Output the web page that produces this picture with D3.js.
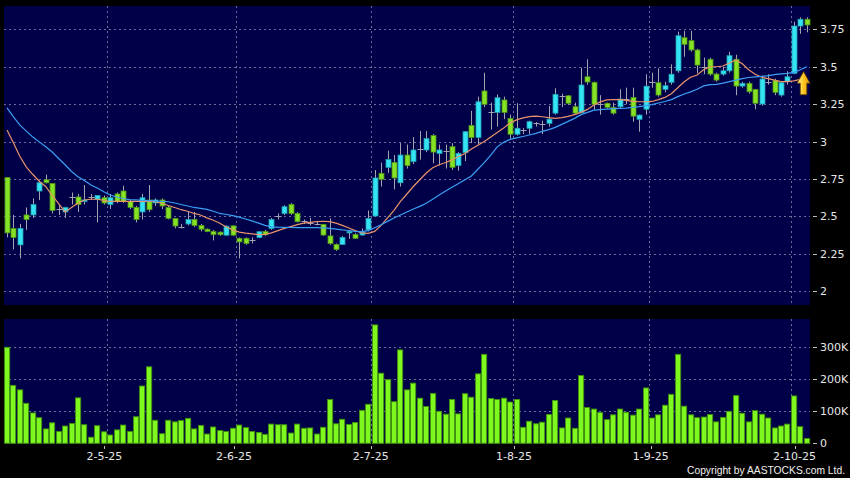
<!DOCTYPE html>
<html><head><meta charset="utf-8">
<script src="https://cdn.jsdelivr.net/npm/d3@7"></script>
<style>html,body{margin:0;padding:0;background:#000;}svg{display:block}</style>
</head><body>
<svg id="c" width="850" height="478"></svg>
<script>
// ---- data (index = trading day) ----
const openP=[2.76,2.42,2.31,2.51,2.51,2.67,2.745,2.72,2.55,2.53,
2.63,2.63,2.60,2.63,2.615,2.625,2.58,2.65,2.67,2.60,
2.56,2.53,2.61,2.59,2.61,2.56,2.487,2.43,2.45,2.48,
2.44,2.415,2.40,2.395,2.375,2.437,2.354,2.354,2.34,2.36,
2.40,2.42,2.503,2.52,2.58,2.52,2.47,2.458,2.45,2.447,
2.37,2.313,2.313,2.39,2.38,2.376,2.41,2.503,2.788,2.828,
2.86,2.725,2.91,2.866,2.95,2.944,3.04,2.92,2.937,2.966,
2.84,2.926,3.108,3.028,3.338,3.20,3.195,3.278,3.155,3.049,
3.077,3.089,3.126,3.115,3.122,3.19,3.306,3.306,3.233,3.193,
3.433,3.396,3.25,3.256,3.229,3.233,3.284,3.295,3.149,3.216,
3.40,3.393,3.349,3.396,3.473,3.694,3.674,3.612,3.50,3.55,
3.451,3.451,3.473,3.55,3.371,3.389,3.349,3.251,3.40,3.407,
3.311,3.40,3.456,3.772,3.817];
const closeP=[2.39,2.36,2.42,2.48,2.58,2.725,2.725,2.54,2.55,2.56,
2.63,2.58,2.61,2.63,2.64,2.59,2.625,2.60,2.60,2.56,
2.48,2.625,2.545,2.61,2.57,2.487,2.436,2.43,2.48,2.44,
2.415,2.40,2.378,2.378,2.435,2.375,2.33,2.32,2.34,2.398,
2.378,2.48,2.503,2.565,2.52,2.465,2.47,2.458,2.45,2.376,
2.32,2.28,2.36,2.40,2.354,2.394,2.487,2.757,2.748,2.88,
2.757,2.91,2.84,2.944,2.95,3.02,2.93,2.944,2.937,2.828,
2.92,3.066,3.028,3.266,3.249,3.20,3.293,3.195,3.049,3.089,
3.077,3.133,3.126,3.115,3.15,3.315,3.306,3.256,3.19,3.378,
3.398,3.249,3.25,3.229,3.19,3.284,3.284,3.17,3.177,3.37,
3.40,3.311,3.373,3.45,3.707,3.65,3.612,3.511,3.50,3.451,
3.411,3.473,3.574,3.371,3.389,3.333,3.256,3.418,3.40,3.329,
3.393,3.433,3.772,3.817,3.779];
const highP=[2.76,2.51,2.45,2.56,2.62,2.74,2.78,2.72,2.58,2.565,
2.66,2.65,2.71,2.65,2.64,2.64,2.65,2.66,2.705,2.61,
2.57,2.65,2.71,2.62,2.62,2.57,2.49,2.45,2.53,2.53,
2.45,2.42,2.41,2.40,2.44,2.44,2.36,2.36,2.36,2.40,
2.41,2.49,2.52,2.575,2.59,2.53,2.48,2.49,2.47,2.45,
2.487,2.32,2.37,2.41,2.39,2.42,2.54,2.81,2.86,2.94,
2.91,2.99,2.98,3.03,3.07,3.07,3.05,2.98,2.98,2.99,
2.93,3.07,3.206,3.30,3.46,3.26,3.315,3.30,3.18,3.256,
3.09,3.14,3.13,3.14,3.238,3.356,3.32,3.31,3.26,3.493,
3.55,3.40,3.31,3.26,3.26,3.35,3.36,3.36,3.18,3.45,
3.46,3.49,3.40,3.516,3.734,3.74,3.74,3.62,3.56,3.56,
3.46,3.50,3.60,3.58,3.40,3.40,3.35,3.44,3.45,3.42,
3.40,3.47,3.80,3.83,3.83];
const lowP=[2.36,2.28,2.22,2.41,2.49,2.61,2.72,2.52,2.51,2.49,
2.58,2.53,2.58,2.61,2.46,2.58,2.55,2.59,2.59,2.55,
2.46,2.48,2.53,2.57,2.55,2.48,2.42,2.42,2.44,2.43,
2.40,2.395,2.34,2.37,2.37,2.37,2.22,2.31,2.32,2.355,
2.37,2.41,2.48,2.51,2.51,2.46,2.45,2.44,2.44,2.37,
2.31,2.27,2.31,2.35,2.35,2.37,2.40,2.50,2.70,2.79,
2.68,2.70,2.82,2.85,2.88,2.93,2.855,2.84,2.82,2.81,
2.805,2.87,2.99,2.98,3.23,3.08,3.10,3.15,3.02,3.04,
3.05,3.05,3.10,3.05,3.10,3.18,3.23,3.245,3.18,3.19,
3.38,3.21,3.18,3.22,3.18,3.22,3.25,3.133,3.066,3.18,
3.36,3.30,3.33,3.38,3.46,3.567,3.60,3.456,3.45,3.44,
3.40,3.44,3.46,3.31,3.36,3.32,3.216,3.24,3.38,3.31,
3.30,3.38,3.45,3.72,3.73];
const volumeK=[300,181,167,125,95,80,45,64,37,54,
62,142,58,19,55,36,26,42,57,37,
83,179,239,72,30,72,67,71,78,45,
56,29,51,40,37,47,57,49,37,34,
28,60,58,58,32,60,47,48,29,50,
137,61,75,59,65,103,122,370,219,199,
130,292,167,188,141,115,156,100,91,137,
92,155,144,217,278,140,137,141,129,137,
50,69,61,66,90,134,48,79,47,212,
112,107,96,74,89,107,97,88,107,173,
79,89,119,153,278,116,89,80,82,90,
67,81,100,149,94,67,102,91,79,48,
54,60,148,52,15];
const maShort=[3.077,2.99,2.90,2.83,2.78,2.735,2.70,2.64,2.585,2.53,
2.56,2.59,2.61,2.615,2.615,2.607,2.60,2.60,2.60,2.60,
2.60,2.60,2.60,2.598,2.588,2.573,2.56,2.545,2.535,2.52,
2.51,2.49,2.475,2.455,2.43,2.41,2.395,2.388,2.383,2.378,
2.38,2.39,2.405,2.42,2.432,2.445,2.455,2.46,2.465,2.468,
2.465,2.455,2.44,2.423,2.405,2.39,2.387,2.40,2.44,2.49,
2.54,2.60,2.65,2.70,2.745,2.79,2.825,2.845,2.86,2.878,
2.90,2.92,2.95,2.975,3.00,3.03,3.06,3.09,3.125,3.145,
3.158,3.167,3.17,3.166,3.16,3.155,3.16,3.168,3.18,3.195,
3.215,3.245,3.265,3.278,3.28,3.28,3.275,3.268,3.266,3.266,
3.268,3.28,3.295,3.32,3.36,3.40,3.43,3.445,3.48,3.50,
3.50,3.505,3.525,3.545,3.52,3.48,3.45,3.43,3.42,3.41,
3.40,3.40,3.405,3.415,3.425];
const maLong=[3.225,3.165,3.11,3.07,3.03,2.998,2.965,2.93,2.887,2.845,
2.80,2.765,2.74,2.71,2.69,2.665,2.643,2.63,2.62,2.612,
2.61,2.607,2.605,2.603,2.60,2.598,2.59,2.58,2.57,2.56,
2.554,2.547,2.535,2.52,2.513,2.505,2.495,2.483,2.47,2.455,
2.44,2.43,2.428,2.427,2.426,2.425,2.425,2.425,2.425,2.423,
2.42,2.415,2.41,2.406,2.40,2.398,2.405,2.425,2.445,2.467,
2.49,2.51,2.53,2.55,2.567,2.588,2.615,2.643,2.67,2.695,
2.72,2.745,2.77,2.815,2.86,2.91,2.965,2.995,3.015,3.025,
3.034,3.044,3.055,3.068,3.08,3.095,3.115,3.135,3.155,3.18,
3.195,3.21,3.214,3.217,3.22,3.222,3.224,3.228,3.233,3.24,
3.247,3.258,3.268,3.28,3.30,3.318,3.332,3.35,3.372,3.38,
3.382,3.39,3.40,3.41,3.42,3.428,3.432,3.436,3.44,3.447,
3.452,3.455,3.462,3.48,3.50];
const priceTicks=[2,2.25,2.5,2.75,3,3.25,3.5,3.75];
const volTicks=[0,100000,200000,300000];
const volTickLabels=["0","100K","200K","300K"];
const dateLabels=["2-5-25","2-6-25","2-7-25","1-8-25","1-9-25","2-10-25"];
const dateGridIdx=[15.5,35.5,56.5,78.5,99.5,121.5];
const dateLabelIdx=[15.1,35.2,56.4,78.6,99.8,122.1];

// ---- drawing ----
const svg=d3.select("#c");
const N=openP.length;
const x=d3.scaleLinear().domain([-0.5,N-0.5]).range([3.8,810]);
const y=d3.scaleLinear().domain([2,3.75]).range([291.3,29.3]);
const yv=d3.scaleLinear().domain([0,300000]).range([443.3,347.3]);
const P={x0:4,x1:810,y0:6,y1:305};
const V={y0:319,y1:443.5};
const bg="#000048", gridC="#6c6c9c";
const px=v=>Math.round(v)+0.5;

svg.append("rect").attr("width",850).attr("height",478).attr("fill","#000");
svg.append("rect").attr("x",P.x0).attr("y",P.y0).attr("width",P.x1-P.x0).attr("height",P.y1-P.y0).attr("fill",bg);
svg.append("rect").attr("x",P.x0).attr("y",V.y0).attr("width",P.x1-P.x0).attr("height",V.y1-V.y0).attr("fill",bg);

const g=svg.append("g");
g.selectAll(".hg").data(priceTicks).join("line")
 .attr("x1",P.x0).attr("x2",P.x1).attr("y1",d=>px(y(d))).attr("y2",d=>px(y(d)))
 .attr("stroke",gridC).attr("stroke-dasharray","2,3");
g.selectAll(".vhg").data(volTicks.slice(1)).join("line")
 .attr("x1",P.x0).attr("x2",P.x1).attr("y1",d=>px(yv(d))).attr("y2",d=>px(yv(d)))
 .attr("stroke",gridC).attr("stroke-dasharray","2,3");
dateGridIdx.forEach(i=>{
  [[P.y0,P.y1],[V.y0,V.y1]].forEach(([a,b])=>{
    g.append("line").attr("x1",px(x(i))).attr("x2",px(x(i))).attr("y1",a).attr("y2",b)
     .attr("stroke",gridC).attr("stroke-dasharray","2,3");
  });
});

// candles
const idx=d3.range(N);
const up="#34e4f4", upS="#1f9fb0", dn="#86e224", dnS="#4c9416", wickC="#a4a4b0";
const cg=svg.append("g");
cg.selectAll(".w").data(idx).join("line")
 .attr("x1",i=>px(x(i))).attr("x2",i=>px(x(i)))
 .attr("y1",i=>y(highP[i])).attr("y2",i=>y(lowP[i]))
 .attr("stroke",wickC).attr("stroke-width",1);
cg.selectAll(".b").data(idx.filter(i=>openP[i]!==closeP[i])).join("rect")
 .attr("x",i=>Math.round(x(i))-2).attr("width",5)
 .attr("y",i=>y(Math.max(openP[i],closeP[i])))
 .attr("height",i=>Math.max(1,Math.abs(y(openP[i])-y(closeP[i]))))
 .attr("fill",i=>closeP[i]>openP[i]?up:dn)
 .attr("stroke",i=>closeP[i]>openP[i]?upS:dnS).attr("stroke-width",0.8);
cg.selectAll(".d").data(idx.filter(i=>openP[i]===closeP[i])).join("line")
 .attr("x1",i=>Math.round(x(i))-2.5).attr("x2",i=>Math.round(x(i))+3.5)
 .attr("y1",i=>px(y(openP[i]))).attr("y2",i=>px(y(openP[i])))
 .attr("stroke",wickC).attr("stroke-width",1);

// moving averages
const line=d3.line().x((d,i)=>x(i)).y(d=>y(d)).curve(d3.curveLinear);
svg.append("path").attr("d",line(maShort)).attr("fill","none").attr("stroke","#e8936a").attr("stroke-width",1.2);
svg.append("path").attr("d",line(maLong)).attr("fill","none").attr("stroke","#3c9ef4").attr("stroke-width",1.2);

// volume
svg.append("g").selectAll("rect").data(idx).join("rect")
 .attr("x",i=>Math.round(x(i))-2.5).attr("width",5.2)
 .attr("y",i=>yv(volumeK[i]*1000)).attr("height",i=>yv(0)-yv(volumeK[i]*1000))
 .attr("fill","#7ef81e").attr("stroke","#3f8f0e").attr("stroke-width",0.9);

// arrow annotation at the latest bar
const ax=x(N-1.5), ay=y(3.467);
const grad=svg.append("defs").append("linearGradient").attr("id","ag").attr("x1",0).attr("x2",1).attr("y1",0).attr("y2",0);
grad.append("stop").attr("offset","0%").attr("stop-color","#fff08a");
grad.append("stop").attr("offset","55%").attr("stop-color","#fcc21c");
grad.append("stop").attr("offset","100%").attr("stop-color","#dc9400");
svg.append("path")
 .attr("d",`M${ax},${ay} L${ax+6.5},${ay+11.5} L${ax+3.3},${ay+11.5} L${ax+3.3},${ay+23} L${ax-3.3},${ay+23} L${ax-3.3},${ay+11.5} L${ax-6.5},${ay+11.5} Z`)
 .attr("fill","url(#ag)").attr("stroke","#6b4300").attr("stroke-width",0.8);

// axes text
const font="DejaVu Sans, Verdana, sans-serif", tc="#e6e6e6";
const ta=svg.append("g").attr("font-family",font).attr("font-size",11).attr("fill",tc);
priceTicks.forEach(p=>{
  ta.append("line").attr("x1",813).attr("x2",817).attr("y1",px(y(p))).attr("y2",px(y(p))).attr("stroke","#bbb");
  ta.append("text").attr("x",820).attr("y",y(p)+4).text(p);
});
volTicks.forEach((v,k)=>{
  ta.append("line").attr("x1",813).attr("x2",817).attr("y1",px(yv(v))).attr("y2",px(yv(v))).attr("stroke","#bbb");
  ta.append("text").attr("x",820).attr("y",yv(v)+4).text(volTickLabels[k]);
});
dateLabels.forEach((t,k)=>{
  const xx=x(dateLabelIdx[k]);
  ta.append("line").attr("x1",px(xx)).attr("x2",px(xx)).attr("y1",446).attr("y2",449).attr("stroke","#bbb");
  ta.append("text").attr("x",xx).attr("y",460).attr("text-anchor","middle").text(t);
});
svg.append("text").attr("x",845).attr("y",473.5).attr("text-anchor","end")
 .attr("font-family","Liberation Sans, Arial, sans-serif").attr("font-size",10).attr("fill","#f0f0f0")
 .attr("textLength",158).attr("lengthAdjust","spacingAndGlyphs")
 .text("Copyright by AASTOCKS.com Ltd.");
</script>
</body></html>
